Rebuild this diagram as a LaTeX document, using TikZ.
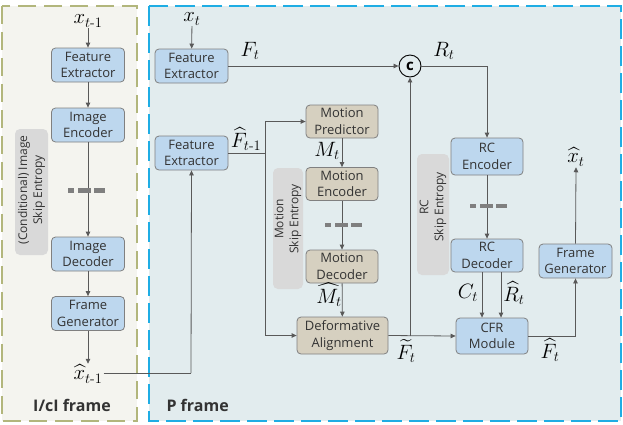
\documentclass[tikz,border=0pt]{standalone}
\usepackage{amsmath}
\usepackage{fontspec}
\setsansfont{Open Sans}
\usetikzlibrary{arrows.meta}
\definecolor{nodeblue}{HTML}{BDD7EE}
\definecolor{nodetan}{HTML}{D6D0C0}
\definecolor{bordergray}{HTML}{808080}
\definecolor{skipgray}{HTML}{D9D9D9}
\definecolor{leftbg}{HTML}{F4F4EF}
\definecolor{leftborder}{HTML}{B2B67C}
\definecolor{rightbg}{HTML}{E2ECEE}
\definecolor{rightborder}{HTML}{1FADE4}
\definecolor{linegray}{HTML}{595959}
\definecolor{dashgray}{HTML}{7F7F7F}
\definecolor{txtgray}{HTML}{333333}
\tikzset{
  basebox/.style={draw=bordergray, rounded corners=4pt, line width=0.8pt, align=center,
    font=\sffamily\fontsize{13}{16.5}\selectfont, text=txtgray, inner sep=0pt},
  bbox/.style={basebox, fill=nodeblue, minimum width=73pt, minimum height=34pt},
  tbox/.style={basebox, fill=nodetan, minimum width=72pt, minimum height=33pt},
  skiptext/.style={rotate=90, align=center, font=\sffamily\fontsize{12}{15}\selectfont, text=txtgray},
  mlab/.style={font=\fontsize{20.5}{20.5}\selectfont, inner sep=1pt},
  conn/.style={draw=linegray, line width=0.8pt},
  arr/.style={conn, -{Triangle[length=5pt,width=4.5pt]}},
  dbar/.pic={\fill[dashgray] (-18,-2.2) rectangle (-12,2.2);
             \fill[dashgray] (-8,-2.2) rectangle (5,2.2);
             \fill[dashgray] (8,-2.2) rectangle (19,2.2);},
}
\begin{document}
\begin{tikzpicture}[x=1pt,y=-1pt]
\useasboundingbox (0,0) rectangle (623,424);
% panels
\draw[fill=leftbg, draw=leftborder, line width=1.8pt, dash pattern=on 18pt off 8pt] (2,6) rectangle (137,421);
\draw[fill=rightbg, draw=rightborder, line width=1.8pt, dash pattern=on 20pt off 7pt] (149,6) rectangle (621,421);
\node[font=\sffamily\bfseries\fontsize{16}{16}\selectfont, text=txtgray] (lblI) at (72,405) {I/cI frame};
\node[font=\sffamily\bfseries\fontsize{16}{16}\selectfont, text=txtgray, anchor=west] (lblP) at (163,405) {P frame};
% skip entropy boxes
\fill[skipgray, rounded corners=5pt] (15,129) rectangle (48,255);
\node[skiptext] (skI) at (31.5,190) {(Conditional) Image\\Skip Entropy};
\fill[skipgray, rounded corners=5pt] (273,168) rectangle (303,289);
\node[skiptext] (skM) at (288,219) {Motion\\Skip Entropy};
\fill[skipgray, rounded corners=5pt] (417,154) rectangle (449,275);
\node[skiptext] (skR) at (433,207) {RC\\Skip Entropy};
% left column
\node[mlab] (xtm1) at (88,21) {$x_{t\text{-}1}$};
\node[bbox] (fel) at (88,65) {Feature\\Extractor};
\node[bbox] (ienc) at (88,125) {Image\\Encoder};
\node[bbox] (idec) at (88,254) {Image\\Decoder};
\node[bbox] (fgl) at (88,313.5) {Frame\\Generator};
\node[mlab] (xhm1) at (88,374) {$\widehat{x}_{t\text{-}1}$};
\draw[arr] (xtm1) -- (fel);
\draw[arr] (fel) -- (ienc);
\draw[arr] (ienc) -- (idec);
\pic at (86,190.5) {dbar};
\draw[arr] (idec) -- (fgl);
\draw[arr] (fgl) -- (xhm1);
% right panel
\node[mlab] (xt) at (192,19) {$x_{t}$};
\node[bbox] (fe1) at (191.5,66) {Feature\\Extractor};
\node[bbox] (fe2) at (191.5,153) {Feature\\Extractor};
\node[tbox] (mp) at (342,121.5) {Motion\\Predictor};
\node[tbox] (me) at (342,184) {Motion\\Encoder};
\node[tbox] (md) at (342,266.5) {Motion\\Decoder};
\node[tbox, minimum width=91pt, minimum height=37pt] (da) at (342.5,335.5) {Deformative\\Alignment};
\node[bbox, minimum width=72pt, minimum height=37pt] (rce) at (487,156.5) {RC\\Encoder};
\node[bbox, minimum width=72pt, minimum height=33pt] (rcd) at (487,255.5) {RC\\Decoder};
\node[bbox, minimum width=72pt, minimum height=36pt] (cfr) at (492,336) {CFR\\Module};
\node[bbox] (fgr) at (575.5,261) {Frame\\Generator};
\node[circle, draw=black, line width=0.9pt, minimum size=22pt, inner sep=0pt,
      font=\sffamily\bfseries\fontsize{15}{15}\selectfont] (circ) at (410,66) {c};
\node[mlab] (xht) at (576,157) {$\widehat{x}_{t}$};
% labels
\node[mlab] (lFt) at (250,51) {$F_{t}$};
\node[mlab] (lRt) at (444,51) {$R_{t}$};
\node[mlab] (lFh) at (246,139) {$\widehat{F}_{t\text{-}1}$};
\node[mlab] (lMt) at (327,151) {$M_{t}$};
\node[mlab] (lMh) at (329,295) {$\widehat{M}_{t}$};
\node[mlab] (lFtil) at (406,351) {$\widetilde{F}_{t}$};
\node[mlab] (lCt) at (468,293) {$C_{t}$};
\node[mlab] (lRh) at (514,293) {$\widehat{R}_{t}$};
\node[mlab] (lFhat) at (550,350) {$\widehat{F}_{t}$};
% coordinates
\coordinate (c1) at (191,373);
\coordinate (j1) at (265,153);
\coordinate (j2) at (410,336);
% connectors
\draw[arr] (xt) -- (fe1);
\draw[conn] (xhm1.east |- c1) -- (c1);
\draw[arr] (c1) -- (fe2.south);
\draw[conn] (fe2.east) -- (j1);
\draw[arr] (j1) |- (mp.west);
\draw[arr] (j1) |- (da.west);
\draw[arr] (mp) -- (me);
\draw[arr] (me) -- (md);
\pic at (343,225) {dbar};
\draw[arr] (md) -- (da);
\draw[arr] (fe1.east) -- (circ.west);
\draw[arr] (circ.east) -| (rce.north);
\draw[arr] (rce) -- (rcd);
\pic at (488,206) {dbar};
\draw[arr] (da.east) -- (cfr.west);
\draw[arr] (j2) -- (circ.south);
\draw[arr] ([xshift=-5pt]rcd.south) -- ([xshift=-10pt]cfr.north);
\draw[arr] ([xshift=14pt]rcd.south) -- ([xshift=9pt]cfr.north);
\draw[arr] (cfr.east) -| (fgr.south);
\draw[arr] (fgr.north) -- (xht.south);
\end{tikzpicture}
\end{document}
